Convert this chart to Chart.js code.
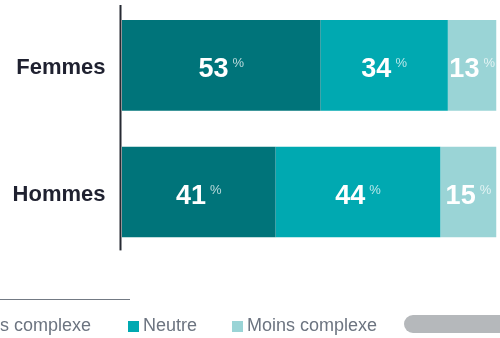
<!DOCTYPE html>
<html>
<head>
<meta charset="utf-8">
<script src="https://cdn.jsdelivr.net/npm/chart.js@4"></script>
<style>
  html, body { margin: 0; padding: 0; background: #fff; overflow: hidden; }
  #wrap { position: relative; width: 500px; height: 338px; }
  #chart { position: absolute; left: 0; top: 0; }
  .rule { position: absolute; left: 0; top: 299px; width: 130px; height: 1px; background: #737a84; }
  .pill { position: absolute; left: 404px; top: 315px; width: 130px; height: 18px; border-radius: 9px; background: #b5b8bb; }
  .legend-item { position: absolute; top: 314px; height: 22px; display: flex; align-items: center;
    font: 18px "Liberation Sans", Arial, sans-serif; color: #6c7480; white-space: nowrap; }
  .legend-item i { display: inline-block; width: 11px; height: 11px; margin-right: 4px; margin-top: 2px; }
</style>
</head>
<body>
<div id="wrap">
  <canvas id="chart" width="500" height="338"></canvas>
  <div class="rule"></div>
  <div id="legend"></div>
  <div class="pill"></div>
</div>
<script>
// categories and series
const categories = ["Femmes", "Hommes"];
const seriesNames = ["Plus complexe", "Neutre", "Moins complexe"];
const plusComplexe = [53, 41];
const neutre = [34, 44];
const moinsComplexe = [13, 15];
const colors = ["#00747a", "#00a9b1", "#9ad4d6"];

// legend (left part is cut off in the source picture)
const legendPos = ["right:409px", "left:128px", "left:232px"];
const legend = document.getElementById("legend");
seriesNames.forEach((name, i) => {
    const item = document.createElement("div");
    item.className = "legend-item";
    item.style.cssText = legendPos[i];
    item.innerHTML = `<i style="background:${colors[i]}"></i>${name}`;
    legend.appendChild(item);
});

const axisLine = {
    id: "axisLine",
    afterDatasetsDraw(chart) {
        const ctx = chart.ctx;
        const area = chart.chartArea;
        ctx.save();
        ctx.fillStyle = "#262a33";
        ctx.fillRect(area.left - 2.5, area.top + 3, 2, area.bottom - area.top - 8);
        ctx.restore();
    }
};

const valueLabels = {
    id: "valueLabels",
    afterDatasetsDraw(chart) {
        const ctx = chart.ctx;
        ctx.save();
        chart.data.datasets.forEach((ds, di) => {
            chart.getDatasetMeta(di).data.forEach((bar, i) => {
                const num = String(ds.data[i]);
                const cx = (bar.x + bar.base) / 2;
                ctx.font = "bold 27px 'Liberation Sans', Arial, sans-serif";
                const w1 = ctx.measureText(num).width;
                ctx.font = "13px 'Liberation Sans', Arial, sans-serif";
                const w2 = ctx.measureText("%").width;
                const gap = 4;
                const start = cx - (w1 + gap + w2) / 2;
                ctx.textBaseline = "alphabetic";
                ctx.textAlign = "left";
                ctx.fillStyle = "#ffffff";
                ctx.font = "bold 27px 'Liberation Sans', Arial, sans-serif";
                ctx.fillText(num, start, bar.y + 11.5);
                ctx.fillStyle = "rgba(255,255,255,0.72)";
                ctx.font = "13px 'Liberation Sans', Arial, sans-serif";
                ctx.fillText("%", start + w1 + gap, bar.y + 2);
            });
        });
        ctx.restore();
    }
};

const chart = new Chart(document.getElementById("chart"), {
    type: "bar",
    data: {
        labels: categories,
        datasets: [
            { label: seriesNames[0], data: plusComplexe, backgroundColor: colors[0] },
            { label: seriesNames[1], data: neutre, backgroundColor: colors[1] },
            { label: seriesNames[2], data: moinsComplexe, backgroundColor: colors[2] }
        ]
    },
    options: {
        indexAxis: "y",
        responsive: false,
        animation: false,
        layout: { padding: { top: 2, bottom: 82.6, left: 0, right: 3.5 } },
        datasets: { bar: { barPercentage: 1, categoryPercentage: 0.715, borderWidth: 0 } },
        plugins: {
            legend: { display: false },
            tooltip: { enabled: false }
        },
        scales: {
            x: { stacked: true, min: 0, max: 100, display: false },
            y: {
                stacked: true,
                grid: { display: false, drawTicks: false },
                border: { display: false },
                ticks: {
                    padding: 16.5,
                    labelOffset: 2.5,
                    color: "#1f2130",
                    font: { family: "'Liberation Sans', Arial, sans-serif", size: 22, weight: "bold" }
                },
                afterFit(scale) {
                    scale.width = 122;
                    scale.paddingTop = 0;
                    scale.paddingBottom = 0;
                }
            }
        }
    },
    plugins: [axisLine, valueLabels]
});
</script>
</body>
</html>
